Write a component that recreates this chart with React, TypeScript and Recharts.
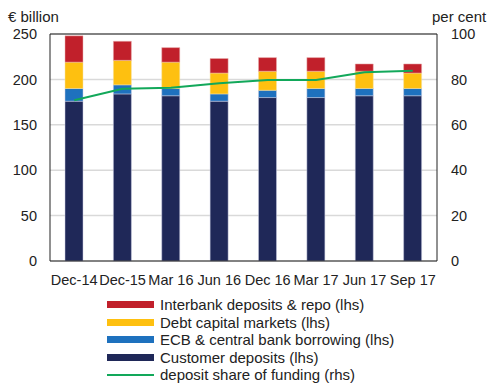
import {
  ComposedChart,
  Bar,
  Line,
  XAxis,
  YAxis,
  CartesianGrid,
  ReferenceLine,
} from 'recharts'

const categories = ['Dec-14', 'Dec-15', 'Mar 16', 'Jun 16', 'Dec 16', 'Mar 17', 'Jun 17', 'Sep 17']
const customerDeposits = [176, 184, 182, 176, 180, 180, 182, 182]
const ecbBorrowing = [14, 10, 8, 8, 8, 10, 8, 8]
const debtMarkets = [29, 27, 29, 23, 21, 19, 19, 17]
const interbankRepo = [29, 21, 16, 16, 15, 15, 8, 10]
const depositShare = [70.8, 75.9, 76.3, 78.3, 79.7, 79.7, 83.1, 83.8]

const leftTicks = [0, 50, 100, 150, 200, 250]
const rightTicks = [0, 20, 40, 60, 80, 100]

const FONT = '"Liberation Sans", Arial, sans-serif'

const legendItems = [
  { label: 'Interbank deposits & repo (lhs)', color: '#C1202B', kind: 'bar' },
  { label: 'Debt capital markets (lhs)', color: '#FEC010', kind: 'bar' },
  { label: 'ECB & central bank borrowing (lhs)', color: '#1E71BE', kind: 'bar' },
  { label: 'Customer deposits (lhs)', color: '#1F2858', kind: 'bar' },
  { label: 'deposit share of funding (rhs)', color: '#12A85A', kind: 'line' },
]

export default function App() {
  // one row per category for the chart
  const data = categories.map((name, i) => ({
    name,
    customer: customerDeposits[i],
    ecb: ecbBorrowing[i],
    debt: debtMarkets[i],
    interbank: interbankRepo[i],
    share: depositShare[i],
  }))

  const tick = { fill: '#222', fontSize: 14.5, fontFamily: FONT }

  return (
    <div style={{ position: 'absolute', left: 0, top: 0, width: 487, height: 383, fontFamily: FONT, background: '#fff' }}>
      <div style={{ position: 'absolute', left: 8, top: 8, fontSize: 15, color: '#222' }}>€ billion</div>
      <div style={{ position: 'absolute', left: 432, top: 8, fontSize: 15, color: '#222' }}>per cent</div>

      <ComposedChart
        width={487}
        height={383}
        data={data}
        margin={{ top: 34, right: 0, left: 0, bottom: 92 }}
      >
        <CartesianGrid yAxisId="left" vertical={false} stroke="#d9d9d9" strokeWidth={1.5} />
        <XAxis
          dataKey="name"
          interval={0}
          height={30}
          tickLine={false}
          tickMargin={8}
          axisLine={{ stroke: '#222' }}
          tick={tick}
        />
        <YAxis
          yAxisId="left"
          orientation="left"
          width={50}
          domain={[0, 250]}
          ticks={leftTicks}
          tickLine={false}
          tickMargin={7}
          axisLine={{ stroke: '#222' }}
          tick={tick}
        />
        <YAxis
          yAxisId="right"
          orientation="right"
          width={50}
          domain={[0, 100]}
          ticks={rightTicks}
          tickLine={false}
          tickMargin={8}
          axisLine={{ stroke: '#222' }}
          tick={tick}
        />
        <ReferenceLine yAxisId="left" y={250} stroke="#222" />
        <Bar yAxisId="left" dataKey="customer" stackId="a" barSize={18} fill="#1F2858" stroke="#c9cbe0" strokeWidth={0.5} isAnimationActive={false} />
        <Bar yAxisId="left" dataKey="ecb" stackId="a" barSize={18} fill="#1E71BE" stroke="#c9cbe0" strokeWidth={0.5} isAnimationActive={false} />
        <Bar yAxisId="left" dataKey="debt" stackId="a" barSize={18} fill="#FEC010" stroke="#f5e0a0" strokeWidth={0.5} isAnimationActive={false} />
        <Bar yAxisId="left" dataKey="interbank" stackId="a" barSize={18} fill="#C1202B" stroke="#e8b0b0" strokeWidth={0.5} isAnimationActive={false} />
        <Line
          yAxisId="right"
          dataKey="share"
          type="linear"
          stroke="#12A85A"
          strokeWidth={2}
          dot={false}
          activeDot={false}
          isAnimationActive={false}
        />
      </ComposedChart>

      <div style={{ position: 'absolute', left: 107, top: 296 }}>
        {legendItems.map((item) => (
          <div key={item.label} style={{ display: 'flex', alignItems: 'center', height: 17.5, fontSize: 15, color: '#222' }}>
            <div style={{ width: 47, height: item.kind === 'bar' ? 7 : 2, background: item.color, marginRight: 6 }} />
            <span>{item.label}</span>
          </div>
        ))}
      </div>
    </div>
  )
}
